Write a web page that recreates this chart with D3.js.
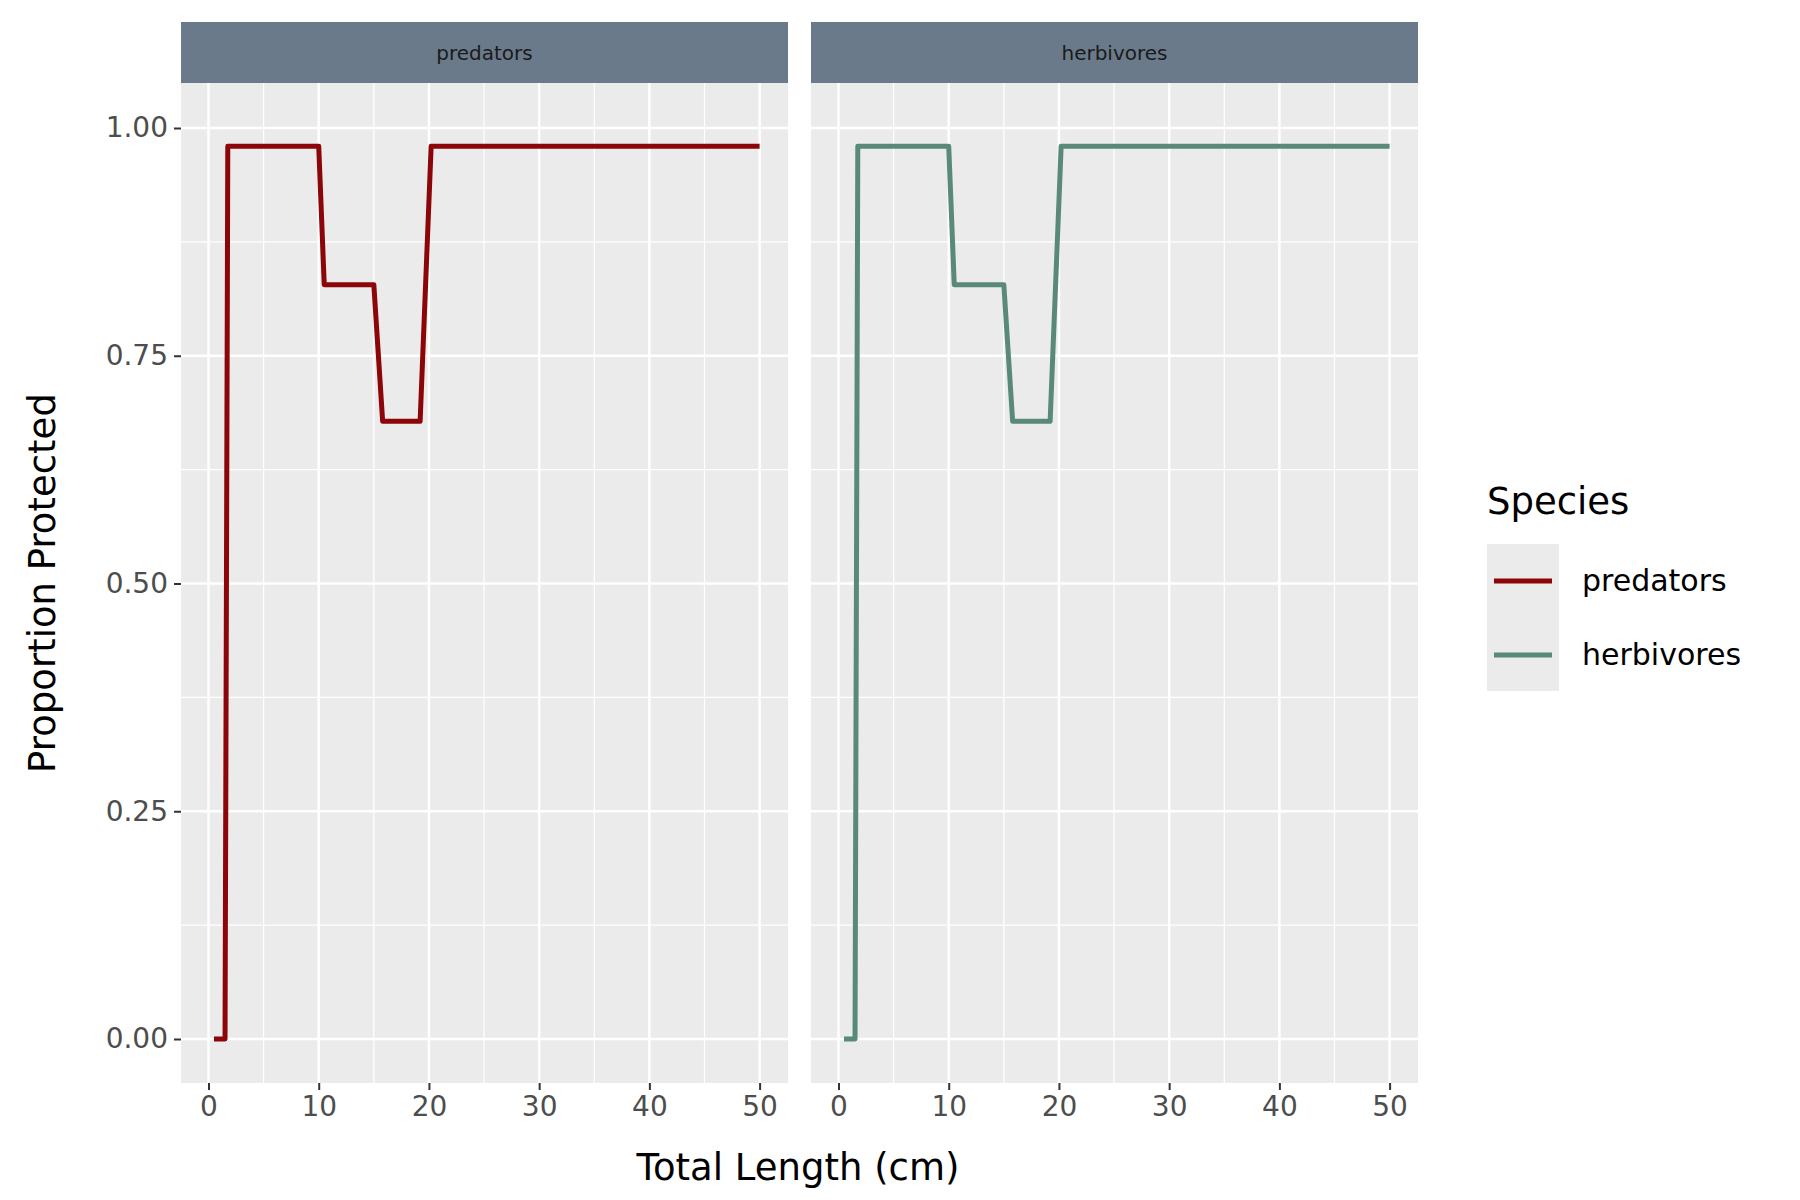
<!DOCTYPE html>
<html><head><meta charset="utf-8">
<script src="https://cdn.jsdelivr.net/npm/d3@7"></script>
<style>body{margin:0;background:#fff}text{font-family:"DejaVu Sans",sans-serif}</style>
</head><body><svg id="chart" width="1800" height="1200"></svg>
<script>
const panels = ['predators', 'herbivores']
const colors = ['#8b0509', '#598a79']
const predatorsX = [0.5, 1.5, 1.75, 10, 10.5, 15, 15.8, 19.2, 20.2, 50]
const predatorsY = [0, 0, 0.98, 0.98, 0.828, 0.828, 0.678, 0.678, 0.98, 0.98]
const herbivoresX = [0.5, 1.5, 1.75, 10, 10.5, 15, 15.8, 19.2, 20.2, 50]
const herbivoresY = [0, 0, 0.98, 0.98, 0.828, 0.828, 0.678, 0.678, 0.98, 0.98]
const xTicks = [0, 10, 20, 30, 40, 50]
const yTicks = [0, 0.25, 0.5, 0.75, 1]
const series = [d3.zip(predatorsX, predatorsY), d3.zip(herbivoresX, herbivoresY)]

const svg = d3.select('#chart')
const panelTop = 83, panelBottom = 1083, panelW = 607, panelLefts = [181, 811]
const y = d3.scaleLinear().domain([0, 1]).range([1039, 128])

panelLefts.forEach((left, i) => {
    const x = d3.scaleLinear().domain([0, 50]).range([left + 27.5, left + 578.6])
    svg.append('rect').attr('x', left).attr('y', panelTop).attr('width', panelW).attr('height', panelBottom - panelTop).attr('fill', '#ebebeb')
    svg.append('rect').attr('x', left).attr('y', 22).attr('width', panelW).attr('height', panelTop - 22).attr('fill', '#6b7a8a')
    svg.append('text').attr('x', left + panelW / 2).attr('y', 60).attr('text-anchor', 'middle')
        .attr('font-size', 20).attr('fill', '#1a1a1a').text(panels[i])
    const g = svg.append('g')
    // minor grid
    d3.range(5, 50, 10).forEach(v => g.append('line').attr('x1', x(v)).attr('x2', x(v)).attr('y1', panelTop).attr('y2', panelBottom).attr('stroke', '#fff').attr('stroke-width', 1.2))
    d3.range(0.125, 1.1, 0.25).forEach(v => g.append('line').attr('x1', left).attr('x2', left + panelW).attr('y1', y(v)).attr('y2', y(v)).attr('stroke', '#fff').attr('stroke-width', 1.2))
    // major grid
    xTicks.forEach(v => g.append('line').attr('x1', x(v)).attr('x2', x(v)).attr('y1', panelTop).attr('y2', panelBottom).attr('stroke', '#fff').attr('stroke-width', 2.5))
    yTicks.forEach(v => g.append('line').attr('x1', left).attr('x2', left + panelW).attr('y1', y(v)).attr('y2', y(v)).attr('stroke', '#fff').attr('stroke-width', 2.5))

    const xAxis = svg.append('g').attr('transform', `translate(0,${panelBottom})`)
        .call(d3.axisBottom(x).tickValues(xTicks).tickSize(7).tickPadding(6))
    xAxis.select('.domain').remove()
    xAxis.selectAll('line').attr('stroke', '#333').attr('stroke-width', 2)
    xAxis.selectAll('text').attr('font-size', 28).attr('fill', '#4d4d4d').attr('font-family', 'DejaVu Sans')

    svg.append('path').datum(series[i])
        .attr('d', d3.line().x(d => x(d[0])).y(d => y(d[1])))
        .attr('fill', 'none').attr('stroke', colors[i]).attr('stroke-width', 5).attr('stroke-linejoin', 'round')
})

const yAxis = svg.append('g').attr('transform', `translate(${panelLefts[0]},0)`)
    .call(d3.axisLeft(y).tickValues(yTicks).tickFormat(d3.format('.2f')).tickSize(7).tickPadding(6))
yAxis.select('.domain').remove()
yAxis.selectAll('line').attr('stroke', '#333').attr('stroke-width', 2)
yAxis.selectAll('text').attr('font-size', 28).attr('fill', '#4d4d4d').attr('font-family', 'DejaVu Sans')

svg.append('text').attr('x', 798).attr('y', 1180).attr('text-anchor', 'middle').attr('font-size', 37).attr('fill', '#000').text('Total Length (cm)')
svg.append('text').attr('transform', 'translate(55,583) rotate(-90)').attr('text-anchor', 'middle').attr('font-size', 37).attr('fill', '#000').text('Proportion Protected')

// legend
svg.append('text').attr('x', 1487).attr('y', 514).attr('font-size', 37).text('Species')
svg.append('rect').attr('x', 1487).attr('y', 544).attr('width', 72).attr('height', 147).attr('fill', '#ebebeb')
panels.forEach((p, i) => {
    const ly = 581 + i * 74
    svg.append('line').attr('x1', 1494).attr('x2', 1552).attr('y1', ly).attr('y2', ly).attr('stroke', colors[i]).attr('stroke-width', 5)
    svg.append('text').attr('x', 1582).attr('y', ly + 10).attr('font-size', 30).text(p)
})
</script></body></html>
